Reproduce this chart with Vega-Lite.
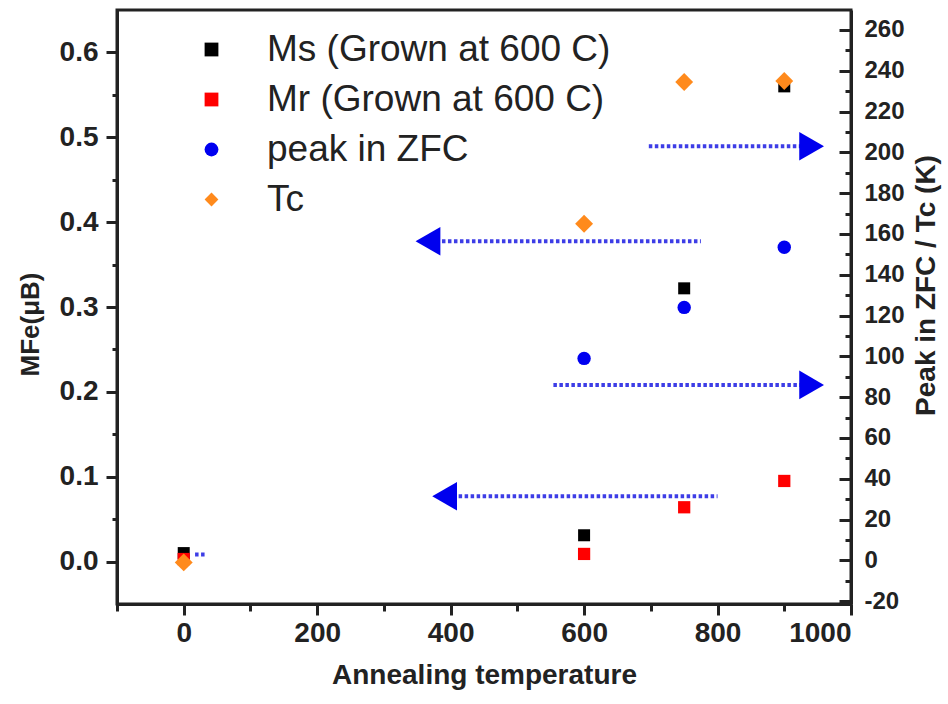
{
  "$schema": "https://vega.github.io/schema/vega-lite/v6.json",
  "width": 734,
  "height": 594,
  "autosize": {"type": "none"},
  "padding": {"left": 117, "top": 10, "right": 97, "bottom": 100},
  "background": "white",
  "config": {
    "view": {"stroke": "#222", "strokeWidth": 3},
    "axis": {
      "labelFont": "Liberation Sans", "labelFontWeight": "bold", "labelColor": "#222", "labelFontSize": 28,
      "titleFont": "Liberation Sans", "titleFontWeight": "bold", "titleColor": "#222", "titleFontSize": 28,
      "grid": false, "domainColor": "#222", "domainWidth": 3, "tickColor": "#222", "tickWidth": 3
    }
  },
  "datasets": {
    "points": [
      {"series": "Ms (Grown at 600 C)", "T": 0, "value": 0.01},
      {"series": "Ms (Grown at 600 C)", "T": 600, "value": 0.031},
      {"series": "Ms (Grown at 600 C)", "T": 750, "value": 0.322},
      {"series": "Ms (Grown at 600 C)", "T": 900, "value": 0.56},
      {"series": "Mr (Grown at 600 C)", "T": 0, "value": 0.003},
      {"series": "Mr (Grown at 600 C)", "T": 600, "value": 0.009},
      {"series": "Mr (Grown at 600 C)", "T": 750, "value": 0.064},
      {"series": "Mr (Grown at 600 C)", "T": 900, "value": 0.095},
      {"series": "peak in ZFC", "T": 600, "value": 99},
      {"series": "peak in ZFC", "T": 750, "value": 124},
      {"series": "peak in ZFC", "T": 900, "value": 153.5},
      {"series": "Tc", "T": 0, "value": -1},
      {"series": "Tc", "T": 600, "value": 165},
      {"series": "Tc", "T": 750, "value": 234.5},
      {"series": "Tc", "T": 900, "value": 235}
    ],
    "leftLines": [
      {"T": 378, "T2": 775, "value": 0.3775},
      {"T": 403, "T2": 800, "value": 0.077},
      {"T": 17, "T2": 33, "value": 0.0083}
    ],
    "leftHeads": [
      {"T": 366, "value": 0.3775},
      {"T": 391, "value": 0.077}
    ],
    "rightLines": [
      {"T": 697, "T2": 928, "value": 203},
      {"T": 554, "T2": 928, "value": 86}
    ],
    "rightHeads": [
      {"T": 941, "value": 203},
      {"T": 941, "value": 86}
    ]
  },
  "encoding": {
    "x": {
      "field": "T", "type": "quantitative",
      "scale": {"domain": [-100, 1000], "nice": false, "zero": false},
      "axis": {
        "title": "Annealing temperature",
        "values": [-100, 0, 100, 200, 300, 400, 500, 600, 700, 800, 900, 1000],
        "labelExpr": "datum.value % 200 == 0 ? '' + datum.value : ''",
        "tickSize": {"condition": {"test": "datum.value % 200 == 0", "value": 11}, "value": 7},
        "labelPadding": 4,
        "titlePadding": 14
      }
    }
  },
  "layer": [
    {
      "encoding": {
        "y": {
          "field": "value", "type": "quantitative",
          "scale": {"domain": [-0.05, 0.65], "nice": false, "zero": false},
          "axis": {
            "title": "MFe(μB)",
            "values": [0, 0.05, 0.1, 0.15, 0.2, 0.25, 0.3, 0.35, 0.4, 0.45, 0.5, 0.55, 0.6],
            "labelExpr": "abs(datum.value * 10 - round(datum.value * 10)) < 0.001 ? format(datum.value, '.1f') : ''",
            "tickSize": {"condition": {"test": "abs(datum.value * 10 - round(datum.value * 10)) < 0.001", "value": 11}, "value": 5},
            "labelPadding": 8,
            "titlePadding": 16,
            "titleFontSize": 26,
            "titleY": 314
          }
        }
      },
      "layer": [
        {
          "data": {"name": "points"},
          "transform": [{"filter": "datum.series == 'Ms (Grown at 600 C)'"}],
          "mark": {"type": "point", "filled": true, "opacity": 1, "size": 144, "strokeWidth": 0},
          "encoding": {
            "color": {"field": "series", "type": "nominal",
              "scale": {"domain": ["Ms (Grown at 600 C)", "Mr (Grown at 600 C)", "peak in ZFC", "Tc"], "range": ["#000000", "#ff0000", "#0000f0", "#ff8a1c"]},
              "legend": {"title": null, "orient": "none", "legendX": 76, "legendY": 21, "labelFontSize": 37, "labelFont": "Liberation Sans", "labelColor": "#222", "labelLimit": 0, "symbolSize": 190, "rowPadding": 12, "labelOffset": 37, "padding": 0, "symbolStrokeWidth": 0, "symbolOpacity": 1}},
            "shape": {"field": "series", "type": "nominal",
              "scale": {"domain": ["Ms (Grown at 600 C)", "Mr (Grown at 600 C)", "peak in ZFC", "Tc"], "range": ["square", "square", "circle", "diamond"]},
              "legend": {"title": null, "orient": "none", "legendX": 76, "legendY": 21, "labelFontSize": 37, "labelFont": "Liberation Sans", "labelColor": "#222", "labelLimit": 0, "symbolSize": 190, "rowPadding": 12, "labelOffset": 37, "padding": 0, "symbolStrokeWidth": 0, "symbolOpacity": 1}}
          }
        },
        {
          "data": {"name": "points"},
          "transform": [{"filter": "datum.series == 'Mr (Grown at 600 C)'"}],
          "mark": {"type": "point", "filled": true, "opacity": 1, "size": 150, "strokeWidth": 0},
          "encoding": {
            "color": {"field": "series", "type": "nominal"},
            "shape": {"field": "series", "type": "nominal"}
          }
        },
        {
          "data": {"name": "leftLines"},
          "mark": {"type": "rule", "color": "#3d3de6", "strokeWidth": 4, "strokeDash": [3.5, 2.5]},
          "encoding": {"x2": {"field": "T2"}}
        },
        {
          "data": {"name": "leftHeads"},
          "mark": {"type": "point", "shape": "triangle-left", "filled": true, "opacity": 1, "size": 820, "color": "#0000ee", "strokeWidth": 0}
        }
      ]
    },
    {
      "encoding": {
        "y": {
          "field": "value", "type": "quantitative",
          "scale": {"domain": [-21.4, 269.8], "nice": false, "zero": false},
          "axis": {
            "orient": "right",
            "title": "Peak in ZFC / Tc (K)",
            "values": [-20, -10, 0, 10, 20, 30, 40, 50, 60, 70, 80, 90, 100, 110, 120, 130, 140, 150, 160, 170, 180, 190, 200, 210, 220, 230, 240, 250, 260],
            "labelExpr": "datum.value % 20 == 0 ? '' + datum.value : ''",
            "tickSize": {"condition": {"test": "datum.value % 20 == 0", "value": -12}, "value": -6},
            "labelPadding": 25,
            "labelFontSize": 24,
            "titleAngle": 270,
            "titleBaseline": "top",
            "titlePadding": 8,
            "titleY": 275
          }
        }
      },
      "layer": [
        {
          "data": {"name": "points"},
          "transform": [{"filter": "datum.series == 'peak in ZFC'"}],
          "mark": {"type": "point", "filled": true, "opacity": 1, "size": 180, "strokeWidth": 0},
          "encoding": {
            "color": {"field": "series", "type": "nominal"},
            "shape": {"field": "series", "type": "nominal"}
          }
        },
        {
          "data": {"name": "points"},
          "transform": [{"filter": "datum.series == 'Tc'"}],
          "mark": {"type": "point", "filled": true, "opacity": 1, "size": 320, "strokeWidth": 0},
          "encoding": {
            "color": {"field": "series", "type": "nominal"},
            "shape": {"field": "series", "type": "nominal"}
          }
        },
        {
          "data": {"name": "rightLines"},
          "mark": {"type": "rule", "color": "#3d3de6", "strokeWidth": 4, "strokeDash": [3.5, 2.5]},
          "encoding": {"x2": {"field": "T2"}}
        },
        {
          "data": {"name": "rightHeads"},
          "mark": {"type": "point", "shape": "triangle-right", "filled": true, "opacity": 1, "size": 820, "color": "#0000ee", "strokeWidth": 0}
        }
      ]
    }
  ],
  "resolve": {"scale": {"y": "independent"}}
}
